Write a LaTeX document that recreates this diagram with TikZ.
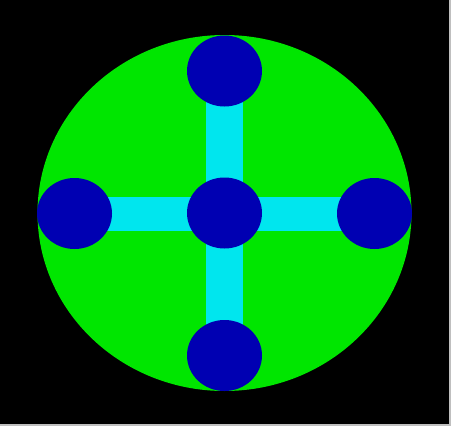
\documentclass[tikz,border=0pt]{standalone}
\usetikzlibrary{shapes.geometric}

\definecolor{diskgreen}{RGB}{0,230,0}
\definecolor{hubblue}{RGB}{0,0,178}
\definecolor{spokecyan}{RGB}{0,230,238}

\begin{document}
\begin{tikzpicture}[x=1pt,y=-1pt,
        hub/.style={ellipse,fill=hubblue,inner sep=0pt,
            minimum width=75pt,minimum height=71pt},
        hspoke/.style={spokecyan,line width=34pt},
        vspoke/.style={spokecyan,line width=37pt}]
                \useasboundingbox (0,0) rectangle (451,426);
                \fill[lightgray] (0,0) rectangle (451,426);
                \fill[black] (0,0) rectangle (449,424);

                \fill[diskgreen] (224.5,213) ellipse (187 and 178);

                \coordinate (C) at (224.5,213);
                \coordinate (T) at (224.5,71);
                \coordinate (B) at (224.5,355.5);
                \coordinate (L) at (74.5,213.5);
                \coordinate (R) at (374.5,213.5);

                \draw[hspoke] (L) -- (R);
                \draw[vspoke] (T) -- (B);

                \node[hub] (hubC) at (C) {};
                \node[hub] (hubT) at (T) {};
                \node[hub] (hubB) at (B) {};
                \node[hub] (hubL) at (L) {};
                \node[hub] (hubR) at (R) {};
            \end{tikzpicture}
\end{document}
